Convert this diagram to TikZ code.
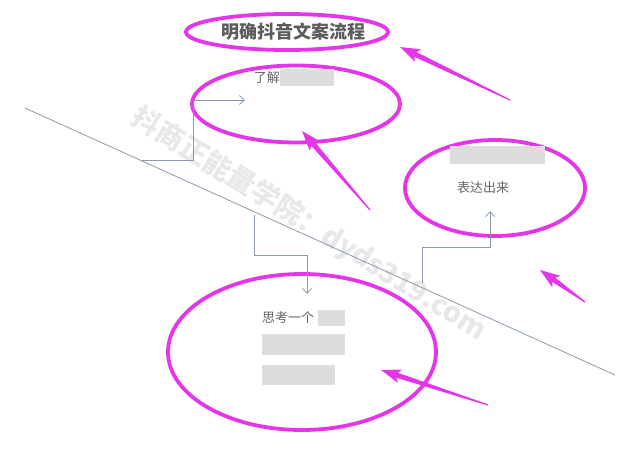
\documentclass[tikz,border=0pt]{standalone}
\usepackage{fontspec}
\newfontfamily\cjk{Noto Sans CJK SC}
\usetikzlibrary{calc,arrows.meta,shapes.geometric}
\definecolor{mag}{HTML}{E535E8}
\definecolor{conn}{HTML}{8A9AAA}
\definecolor{txt}{HTML}{666666}
\definecolor{blur}{HTML}{DDDDDD}
\tikzset{
  ring/.style={draw=mag,line width=3.8pt,ellipse,inner sep=0pt},
  lbl/.style={text=txt,font=\cjk\fontsize{13}{15}\selectfont,inner sep=0pt},
  blurbox/.style={fill=blur,draw=none,inner sep=0pt},
  conline/.style={draw=conn,line width=0.8pt},
  conarrow/.style={conline,-{Straight Barb[length=5pt,width=9pt,line width=0.8pt]}},
}
\newcommand\magarrow[2]{%
  \fill[mag] ($(#1)!0.6pt!90:(#2)$) --
    ($($(#2)!17pt!(#1)$)!2.6pt!90:(#2)$) --
    ($($(#2)!20pt!(#1)$)!7pt!90:(#2)$) -- (#2) --
    ($($(#2)!20pt!(#1)$)!7pt!-90:(#2)$) --
    ($($(#2)!17pt!(#1)$)!2.6pt!-90:(#2)$) --
    ($(#1)!0.6pt!-90:(#2)$) -- cycle;}
\begin{document}
\begin{tikzpicture}[x=1pt,y=-1pt]
\useasboundingbox[fill=white] (0,0) rectangle (626,457);
% watermark
\node[rotate=-32,text=black!9,font=\cjk\bfseries\fontsize{28}{30}\selectfont,inner sep=0pt] (wm) at (309,224) {抖商正能量学院：dyds319.com};
% diagonal line
\coordinate (dA) at (25,108);
\coordinate (dB) at (615,375);
\draw[conline] (dA) -- (dB);
% ellipses
\node[ring,minimum width=202pt,minimum height=36pt] (e1) at (287,32) {};
\node[ring,minimum width=208pt,minimum height=77pt] (e2) at (296,104) {};
\node[ring,minimum width=180pt,minimum height=96pt] (e3) at (495,188) {};
\node[ring,minimum width=268pt,minimum height=156pt] (e4) at (302,352) {};
% title
\node[text=txt!90!black,font=\cjk\bfseries\fontsize{18}{20}\selectfont,inner sep=0pt] (title) at (293,32) {明确抖音文案流程};
% texts
\node[lbl,anchor=east] (t1) at (280,78) {了解};
\node[blurbox,minimum width=54pt,minimum height=17pt,anchor=west] (b1) at (280,78) {};
\node[blurbox,minimum width=95pt,minimum height=18pt] (b2) at (497,155) {};
\node[lbl] (t2) at (483,188) {表达出来};
\node[lbl,anchor=west] (t3) at (262,318) {思考一个};
\node[blurbox,minimum width=27pt,minimum height=16pt,anchor=west] (b3) at (318,318) {};
\node[blurbox,minimum width=83pt,minimum height=21pt,anchor=north west] (b4) at (262,334) {};
\node[blurbox,minimum width=73pt,minimum height=20pt,anchor=north west] (b5) at (262,365) {};
% connectors
\coordinate (c1s) at (142,160);
\coordinate (c1e) at (245,100);
\draw[conarrow] (c1s) -- (193,160) -- (193,100) -- (c1e);
\coordinate (c2s) at (254,215);
\coordinate (c2e) at (307,294);
\draw[conarrow] (c2s) -- (254,255) -- (307,255) -- (c2e);
\coordinate (c3s) at (422,283);
\coordinate (c3e) at (490,211);
\draw[conarrow] (c3s) -- (422,247) -- (490,247) -- (c3e);
% magenta arrows
\coordinate (a1t) at (510,100); \coordinate (a1h) at (400,47);
\coordinate (a2t) at (370,210); \coordinate (a2h) at (302,131);
\coordinate (a3t) at (585,302); \coordinate (a3h) at (540,270);
\coordinate (a4t) at (488,405); \coordinate (a4h) at (381,370);
\magarrow{a1t}{a1h}
\magarrow{a2t}{a2h}
\magarrow{a3t}{a3h}
\magarrow{a4t}{a4h}
\end{tikzpicture}
\end{document}
